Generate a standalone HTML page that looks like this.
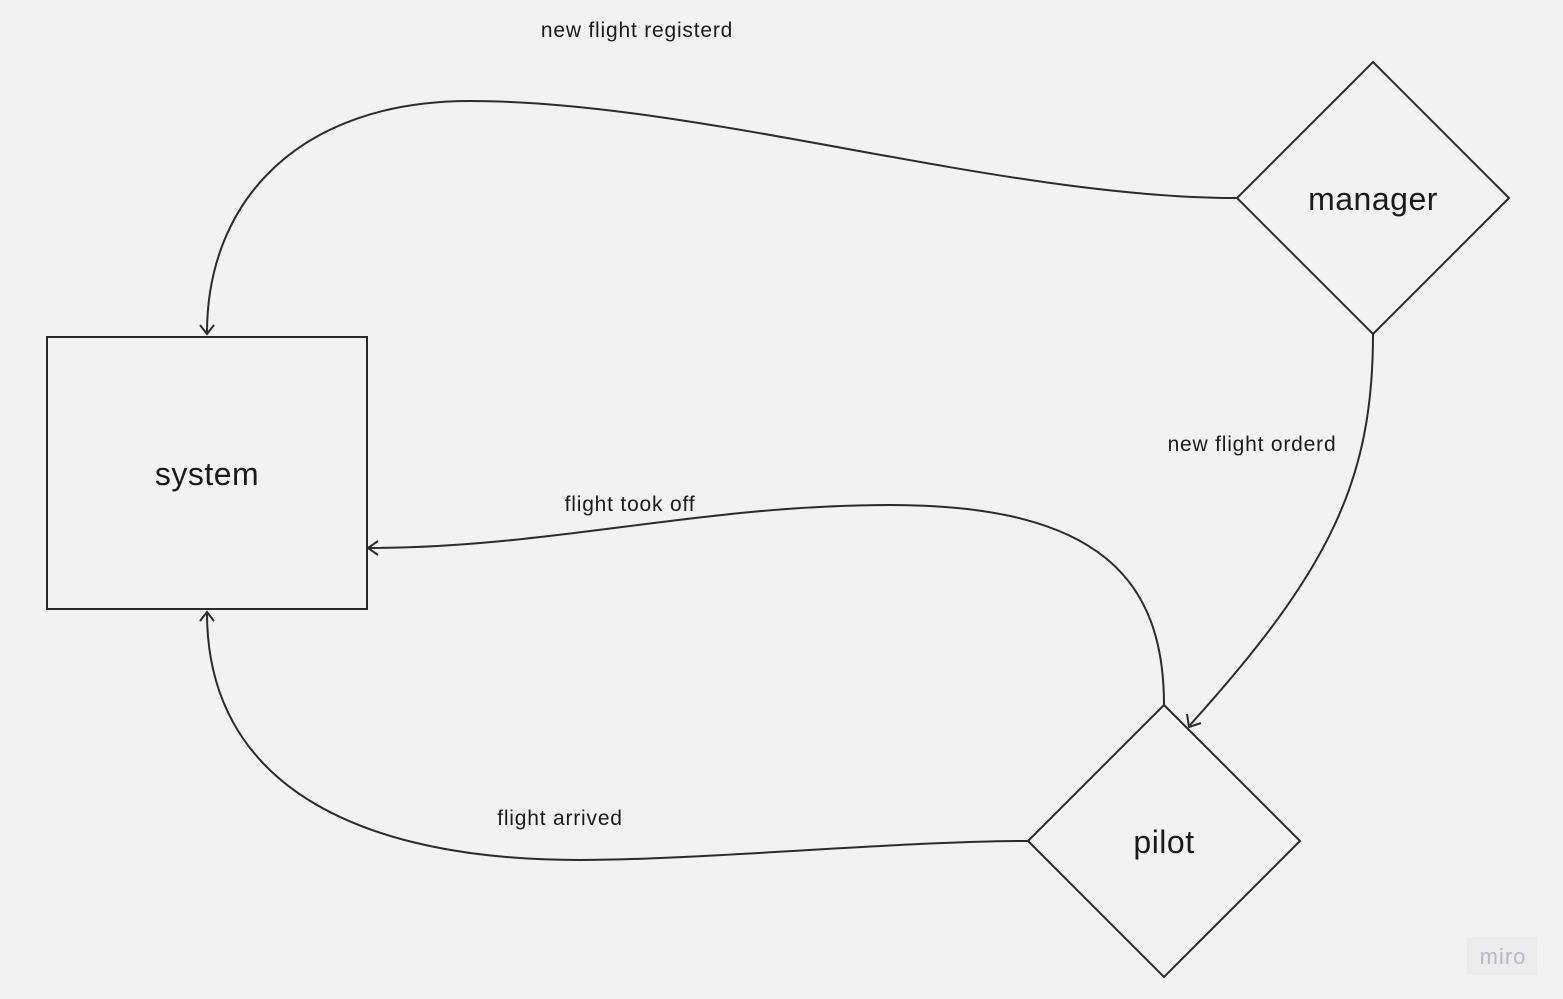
<!DOCTYPE html>
<html><head><style>
html,body{margin:0;padding:0;background:#f2f2f2;width:1563px;height:999px;overflow:hidden}
svg{display:block}
text{font-family:"Liberation Sans",sans-serif;fill:#1a1a1a}
</style></head><body>
<svg width="1563" height="999" viewBox="0 0 1563 999">
<rect x="0" y="0" width="1563" height="999" fill="#f2f2f2"/>
<g fill="none" stroke="#2b2b2b" stroke-width="2">
<rect x="47" y="337" width="320" height="272"/>
<polygon points="1373,62 1509,198 1373,334 1237,198"/>
<polygon points="1164,705 1300,841 1164,977 1028,841"/>
<path d="M1237 198 C1000 198 700 101 470 101 C300 101 207 200 207 333"/>
<path d="M1373 334 C1373 480 1330 570 1190 725"/>
<path d="M1164 705 C1164 580 1100 505 890 505 C700 505 550 548 369 548"/>
<path d="M1028 841 C900 841 700 860 580 860 C350 860 207 780 207 613"/>
<path d="M200 325 L207 334 L214 325"/>
<path d="M378 541 L368 548 L378 555"/>
<path d="M200 621 L207 612 L214 621"/>
<path d="M1187 714 L1189 727 L1201 723"/>
</g>
<text x="207" y="485" font-size="32" text-anchor="middle" letter-spacing="0.5">system</text>
<text x="1373" y="210" font-size="32" text-anchor="middle" letter-spacing="0.5">manager</text>
<text x="1164" y="853" font-size="32" text-anchor="middle" letter-spacing="0.5">pilot</text>
<g font-size="21" letter-spacing="0.8">
<text x="637" y="37" text-anchor="middle">new flight registerd</text>
<text x="1252" y="451" text-anchor="middle">new flight orderd</text>
<text x="630" y="511" text-anchor="middle">flight took off</text>
<text x="560" y="825" text-anchor="middle">flight arrived</text>
</g>
<rect x="1467" y="937" width="70" height="38" fill="#ececec"/>
<text x="1503" y="964" font-size="22" text-anchor="middle" letter-spacing="1" style="fill:#b8b8c4">miro</text>
</svg>
</body></html>
